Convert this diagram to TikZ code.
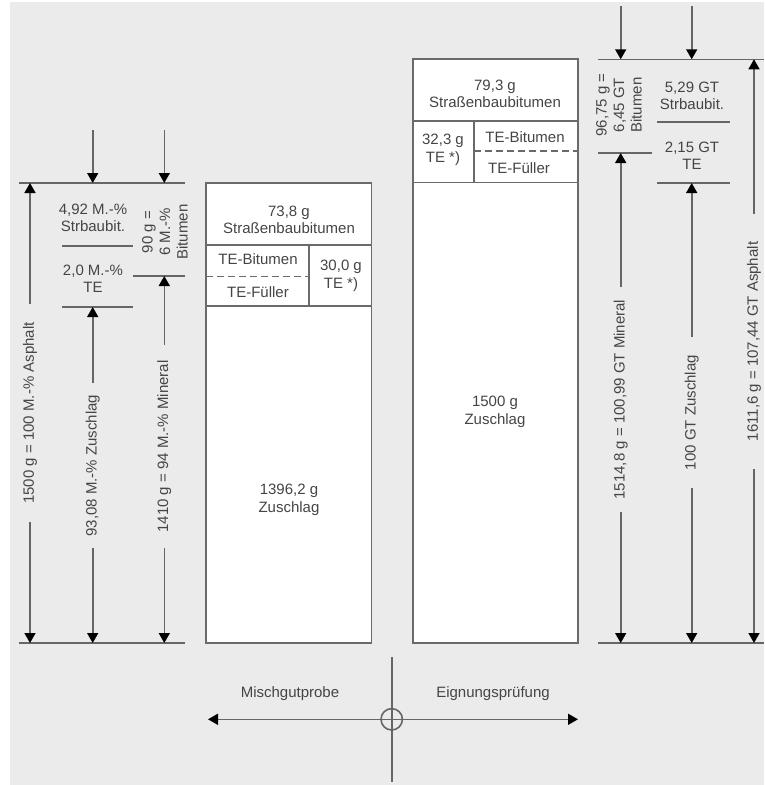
\documentclass[tikz,border=0pt]{standalone}
\usepackage{fontspec}
\setmainfont{Liberation Sans}
\usetikzlibrary{arrows.meta}

\newcommand{\diafont}{\fontsize{15}{17.5}\selectfont}

\begin{document}
\begin{tikzpicture}[x=1pt, y=-1pt,
  txt/.style={text=textGray, font=\diafont, align=center, inner sep=0pt},
  dimtxt/.style={txt, rotate=90, inner xsep=14pt},
  dim/.style={draw=lineGray, line width=1.6pt, -{Triangle[length=10pt,width=11pt,color=black]}},
  refline/.style={draw=lineGray, line width=1.6pt},
  colbox/.style={draw=boxGray, fill=white, line width=1.8pt},
  colline/.style={draw=boxGray, line width=1.6pt},
  dashsep/.style={draw=boxGray, line width=1.8pt, dash pattern=on 7pt off 4pt}]

% Farben
\definecolor{bgGray}{HTML}{EBEBEB}
\definecolor{lineGray}{HTML}{666666}
\definecolor{boxGray}{HTML}{6A6A6A}
\definecolor{textGray}{HTML}{454545}

% Hintergrund
\useasboundingbox (0,0) rectangle (764,785);
\fill[bgGray] (10,2) rectangle (764,785);

% Saeule links (Mischgutprobe)
\draw[colbox] (206,183) rectangle (371.5,643);
\draw[colline] (206,245) -- (371.5,245);
\draw[colline] (206,306) -- (371.5,306);
\draw[colline] (309,245) -- (309,306);
\draw[dashsep] (206,276.5) -- (309,276.5);
\node[txt] (bitL) at (289,220) {73,8 g\\Straßenbaubitumen};
\node[txt] (tebitL) at (258,259) {TE-Bitumen};
\node[txt] (tefuL) at (258,292) {TE-Füller};
\node[txt] (teL) at (341,276) {30,0 g\\TE *)};
\node[txt] (zuL) at (289,500) {1396,2 g\\Zuschlag};

% Saeule rechts (Eignungspruefung)
\draw[colbox] (413.3,59.3) rectangle (578,643);
\draw[colline] (413.3,121) -- (578,121);
\draw[colline] (413.3,182.3) -- (578,182.3);
\draw[colline] (474,121) -- (474,182.3);
\draw[dashsep] (474,151) -- (578,151);
\node[txt] (bitR) at (495,94) {79,3 g\\Straßenbaubitumen};
\node[txt] (teR) at (443,150) {32,3 g\\TE *)};
\node[txt] (tebitR) at (525,137) {TE-Bitumen};
\node[txt] (tefuR) at (519,168) {TE-Füller};
\node[txt] (zuR) at (495,412) {1500 g\\Zuschlag};

% Masslinien links
\draw[refline] (19,183) -- (185,183);
\draw[refline] (19,643) -- (185,643);
\draw[refline] (62,245.7) -- (133,245.7);
\draw[refline] (62,307) -- (133,307);
\draw[refline] (133,276) -- (185,276);

\node[txt] (sbL) at (93,218) {4,92 M.-\%\\Strbaubit.};
\node[txt] (tL) at (93,279) {2,0 M.-\%\\TE};
\node[txt, rotate=90] (bmL) at (165,232) {90 g =\\6 M.-\%\\Bitumen};

\coordinate (inZuL) at (92.7,130);
\coordinate (inBmL) at (164.3,130);
\coordinate (topZuL) at (92.7,183);
\coordinate (topBmL) at (164.3,183);
\draw[dim] (inZuL) -- (topZuL);
\draw[dim] (inBmL) -- (topBmL);

\coordinate (aspLTop) at (30,183);
\coordinate (aspLBot) at (30,643);
\node[dimtxt, inner xsep=18pt] (aspLLbl) at (30,413) {1500 g = 100 M.-\% Asphalt};
\draw[dim] (aspLLbl) -- (aspLTop);
\draw[dim] (aspLLbl) -- (aspLBot);

\coordinate (zuLTop) at (92.7,307);
\coordinate (zuLBot) at (92.7,643);
\node[dimtxt, inner xsep=11pt] (zuLLbl) at (92.7,465.5) {93,08 M.-\% Zuschlag};
\draw[dim] (zuLLbl) -- (zuLTop);
\draw[dim] (zuLLbl) -- (zuLBot);

\coordinate (minLTop) at (164.3,276);
\coordinate (minLBot) at (164.3,643);
\node[dimtxt, inner xsep=15pt] (minLLbl) at (164.3,446.5) {1410 g = 94 M.-\% Mineral};
\draw[dim] (minLLbl) -- (minLTop);
\draw[dim] (minLLbl) -- (minLBot);

% Masslinien rechts
\draw[refline] (598,59.3) -- (764,59.3);
\draw[refline] (598,643) -- (764,643);
\draw[refline] (598,153) -- (652,153);
\draw[refline] (657,122) -- (730,122);
\draw[refline] (657,183) -- (730,183);

\node[txt] (sbR) at (692,96) {5,29 GT\\Strbaubit.};
\node[txt] (tR) at (692,156) {2,15 GT\\TE};
\node[txt, rotate=90] (bmR) at (619,105) {96,75 g =\\6,45 GT\\Bitumen};

\coordinate (inMinR) at (620.7,6);
\coordinate (inZuR) at (691.7,6);
\coordinate (topMinR) at (620.7,59.3);
\coordinate (topZuR) at (691.7,59.3);
\draw[dim] (inMinR) -- (topMinR);
\draw[dim] (inZuR) -- (topZuR);

\coordinate (minRTop) at (620.7,153);
\coordinate (minRBot) at (620.7,643);
\node[dimtxt, inner xsep=12pt] (minRLbl) at (620.7,399.5) {1514,8 g = 100,99 GT Mineral};
\draw[dim] (minRLbl) -- (minRTop);
\draw[dim] (minRLbl) -- (minRBot);

\coordinate (zuRTop) at (691.7,183);
\coordinate (zuRBot) at (691.7,643);
\node[dimtxt, inner xsep=18pt] (zuRLbl) at (691.7,412.5) {100 GT Zuschlag};
\draw[dim] (zuRLbl) -- (zuRTop);
\draw[dim] (zuRLbl) -- (zuRBot);

\coordinate (aspRTop) at (754,59.3);
\coordinate (aspRBot) at (754,643);
\node[dimtxt, inner xsep=28pt] (aspRLbl) at (754,341.5) {1611,6 g = 107,44 GT Asphalt};
\draw[dim] (aspRLbl) -- (aspRTop);
\draw[dim] (aspRLbl) -- (aspRBot);

% Achsenkreuz unten
\node[draw=lineGray, line width=1.6pt, circle, minimum size=21.4pt, inner sep=0pt] (origin) at (391.7,719.3) {};
\coordinate (crossTop) at (391.7,657);
\coordinate (crossBot) at (391.7,782);
\coordinate (mischEnd) at (208,719.3);
\coordinate (eignEnd) at (578,719.3);
\draw[refline] (crossTop) -- (crossBot);
\draw[dim] (origin.center) -- (mischEnd);
\draw[dim] (origin.center) -- (eignEnd);
\node[txt] (misch) at (290,694) {Mischgutprobe};
\node[txt] (eign) at (493,694) {Eignungsprüfung};

\end{tikzpicture}
\end{document}
